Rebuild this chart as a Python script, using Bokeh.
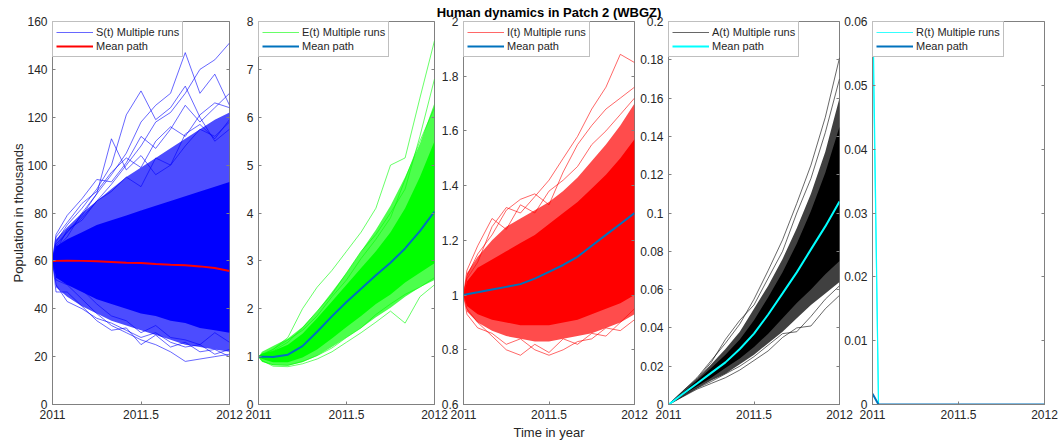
from bokeh.plotting import figure
from bokeh.models import Range1d, FixedTicker, LinearAxis, Legend, LegendItem
from bokeh.layouts import row
from bokeh.embed import file_html
from bokeh.resources import INLINE

FONT = "Liberation Sans"
TXT = "#262626"
EDGE = "#808080"

# ---------------- data ----------------
T = [2011.0, 2011.02, 2011.083, 2011.167, 2011.25, 2011.333, 2011.417,
     2011.5, 2011.583, 2011.667, 2011.75, 2011.833, 2011.917, 2012.0]
X_TICKS = [2011.0, 2011.5, 2012.0]
X_TICK_LABELS = ["2011", "2011.5", "2012"]

# S(t)
S_MEAN = [60.0, 60.0, 60.1, 60.0, 59.8, 59.5, 59.2, 59.1, 58.7, 58.4, 58.2, 57.7, 57.0, 55.8]
S_CORE_LO = [60, 53, 50, 47, 44, 42, 40, 38, 37, 35, 34, 32, 31, 30]
S_CORE_HI = [60, 66, 69, 72, 75, 77, 79, 81, 83, 85, 87, 89, 91, 93]
S_SPREAD_LO = [60, 49, 45, 41, 38, 35, 33, 31, 29, 27, 25, 24, 23, 22]
S_SPREAD_HI = [60, 69, 74, 80, 85, 90, 95, 99, 103, 107, 111, 115, 119, 122]
S_RUN_A = [60, 66, 72, 78, 85, 92, 100, 108, 118, 122, 130, 140, 144, 151]
S_RUN_B = [60, 65, 70, 80, 88, 96, 105, 118, 125, 130, 147, 130, 138, 125]
S_RUN_C = [60, 68, 75, 82, 90, 100, 121, 131, 119, 124, 133, 120, 110, 115]
S_RUN_D = [60, 67, 72, 79, 88, 111, 98, 104, 96, 100, 108, 115, 112, 118]
S_RUN_E = [60, 52, 50, 44, 38, 33, 30, 27, 25, 22, 18, 19, 20, 21]
S_RUN_F = [60, 47, 47, 41, 35, 31, 32, 25, 29, 24, 26, 22, 23, 20]
S_RUN_G = [60, 55, 55, 48, 42, 37, 35, 30, 33, 28, 27, 25, 30, 26]
S_RUN_H = [60, 70, 76, 84, 89, 97, 103, 99, 110, 116, 112, 121, 126, 124]
S_RUN_I = [60, 71, 79, 86, 94, 93, 101, 112, 107, 115, 125, 118, 124, 130]
S_RUN_J = [60, 64, 73, 77, 85, 89, 95, 91, 103, 100, 113, 117, 111, 119]
S_RUN_K = [60, 50, 43, 40, 36, 34, 31, 28, 30, 26, 24, 25, 21, 23]
S_Y_TICKS = [0, 20, 40, 60, 80, 100, 120, 140, 160]
S_Y_LABELS = ["0", "20", "40", "60", "80", "100", "120", "140", "160"]

# E(t)
E_MEAN = [1.0, 1.0, 0.99, 1.04, 1.22, 1.52, 1.84, 2.14, 2.42, 2.7, 2.96, 3.26, 3.62, 4.03]
E_CORE_LO = [1.0, 0.95, 0.88, 0.88, 0.98, 1.15, 1.38, 1.62, 1.85, 2.1, 2.3, 2.55, 2.75, 2.95]
E_CORE_HI = [1.0, 1.06, 1.12, 1.25, 1.48, 1.8, 2.15, 2.5, 2.85, 3.2, 3.6, 4.1, 4.75, 5.5]
E_SPREAD_LO = [1.0, 0.9, 0.82, 0.81, 0.88, 1.02, 1.2, 1.4, 1.6, 1.82, 2.02, 2.25, 2.45, 2.6]
E_SPREAD_HI = [1.0, 1.1, 1.22, 1.38, 1.62, 1.95, 2.35, 2.75, 3.2, 3.65, 4.15, 4.75, 5.45, 6.3]
E_RUN_A = [1.0, 1.03, 1.15, 1.4, 2.0, 2.45, 2.8, 3.2, 3.6, 4.1, 5.0, 5.15, 6.4, 7.6]
E_RUN_B = [1.0, 1.04, 1.12, 1.3, 1.6, 1.95, 2.3, 2.75, 3.2, 3.55, 4.0, 4.5, 5.6, 6.8]
E_RUN_C = [1.0, 1.05, 1.15, 1.35, 1.55, 1.85, 2.25, 2.6, 3.05, 3.45, 3.9, 4.7, 5.5, 6.2]
E_RUN_D = [1.0, 0.92, 0.8, 0.79, 0.85, 0.95, 1.1, 1.3, 1.5, 1.72, 1.95, 1.7, 2.25, 2.5]
E_RUN_E = [1.0, 0.9, 0.83, 0.82, 0.9, 1.02, 1.18, 1.4, 1.6, 1.88, 2.1, 2.3, 2.45, 2.65]
E_Y_TICKS = [0, 1, 2, 3, 4, 5, 6, 7, 8]
E_Y_LABELS = ["0", "1", "2", "3", "4", "5", "6", "7", "8"]

# I(t)
I_MEAN = [1.0, 1.003, 1.01, 1.02, 1.03, 1.04, 1.06, 1.085, 1.11, 1.14, 1.18, 1.22, 1.26, 1.30]
I_CORE_LO = [1.0, 0.96, 0.93, 0.91, 0.9, 0.89, 0.89, 0.89, 0.9, 0.91, 0.93, 0.95, 0.97, 1.0]
I_CORE_HI = [1.0, 1.05, 1.1, 1.13, 1.16, 1.19, 1.22, 1.26, 1.3, 1.34, 1.39, 1.44, 1.5, 1.57]
I_SPREAD_LO = [1.0, 0.94, 0.9, 0.87, 0.85, 0.84, 0.83, 0.83, 0.84, 0.85, 0.86, 0.88, 0.9, 0.93]
I_SPREAD_HI = [1.0, 1.08, 1.14, 1.2, 1.25, 1.28, 1.31, 1.34, 1.38, 1.43, 1.49, 1.55, 1.62, 1.7]
I_RUN_A = [1.0, 1.06, 1.12, 1.25, 1.32, 1.3, 1.36, 1.42, 1.5, 1.58, 1.68, 1.76, 1.88, 1.85]
I_RUN_B = [1.0, 1.07, 1.15, 1.22, 1.31, 1.35, 1.37, 1.33, 1.45, 1.55, 1.62, 1.68, 1.72, 1.76]
I_RUN_C = [1.0, 0.95, 0.9, 0.85, 0.8, 0.78, 0.82, 0.79, 0.84, 0.82, 0.86, 0.85, 0.9, 0.95]
I_RUN_D = [1.0, 0.93, 0.88, 0.86, 0.82, 0.84, 0.8, 0.78, 0.8, 0.83, 0.84, 0.88, 0.87, 0.91]
I_RUN_E = [1.0, 1.09, 1.18, 1.28, 1.24, 1.33, 1.3, 1.38, 1.42, 1.47, 1.55, 1.6, 1.66, 1.72]
I_Y_TICKS = [0.6, 0.8, 1.0, 1.2, 1.4, 1.6, 1.8, 2.0]
I_Y_LABELS = ["0.6", "0.8", "1", "1.2", "1.4", "1.6", "1.8", "2"]

# A(t)
A_MEAN = [0.0, 0.0012, 0.0055, 0.011, 0.0165, 0.022, 0.029, 0.037, 0.047, 0.058, 0.069, 0.081, 0.093, 0.106]
A_CORE_LO = [0.0, 0.001, 0.0048, 0.0095, 0.014, 0.019, 0.024, 0.03, 0.037, 0.045, 0.053, 0.06, 0.068, 0.075]
A_CORE_HI = [0.0, 0.0014, 0.0062, 0.0125, 0.019, 0.026, 0.034, 0.044, 0.056, 0.069, 0.084, 0.101, 0.121, 0.145]
A_SPREAD_LO = [0.0, 0.0009, 0.0042, 0.0085, 0.0125, 0.016, 0.021, 0.026, 0.032, 0.038, 0.045, 0.052, 0.058, 0.064]
A_SPREAD_HI = [0.0, 0.0016, 0.0068, 0.0135, 0.021, 0.029, 0.038, 0.05, 0.062, 0.076, 0.092, 0.11, 0.132, 0.16]
A_RUN_A = [0.0, 0.0017, 0.007, 0.014, 0.023, 0.032, 0.042, 0.055, 0.07, 0.086, 0.105, 0.125, 0.15, 0.181]
A_RUN_B = [0.0, 0.0016, 0.0068, 0.0135, 0.022, 0.034, 0.044, 0.052, 0.066, 0.08, 0.1, 0.118, 0.142, 0.17]
A_RUN_C = [0.0, 0.0009, 0.004, 0.008, 0.011, 0.014, 0.018, 0.023, 0.028, 0.035, 0.04, 0.041, 0.05, 0.057]
A_RUN_D = [0.0, 0.001, 0.0042, 0.0085, 0.012, 0.016, 0.02, 0.025, 0.031, 0.037, 0.038, 0.046, 0.055, 0.062]
A_Y_TICKS = [0.0, 0.02, 0.04, 0.06, 0.08, 0.1, 0.12, 0.14, 0.16, 0.18, 0.2]
A_Y_LABELS = ["0", "0.02", "0.04", "0.06", "0.08", "0.1", "0.12", "0.14", "0.16", "0.18", "0.2"]

# R(t)
R_T = [2011.0, 2011.035, 2012.0]
R_RUN_A = [0.066, 0.0, 0.0]
R_RUN_B = [0.061, 0.0, 0.0]
R_MEAN = [0.0017, 0.0, 0.0]
R_Y_TICKS = [0.0, 0.01, 0.02, 0.03, 0.04, 0.05, 0.06]
R_Y_LABELS = ["0", "0.01", "0.02", "0.03", "0.04", "0.05", "0.06"]

TITLE = "Human dynamics in Patch 2 (WBGZ)"
X_LABEL = "Time in year"
Y_LABEL = "Population in thousands"


def style_axis(ax, ticks, labels, standoff):
    ax.ticker = FixedTicker(ticks=ticks)
    ax.major_label_overrides = dict(zip(ticks, labels))
    ax.major_tick_in = 3
    ax.major_tick_out = 0
    ax.minor_tick_line_color = None
    ax.axis_line_color = EDGE
    ax.major_tick_line_color = EDGE
    ax.major_label_text_font = FONT
    ax.major_label_text_font_size = "12px"
    ax.major_label_text_color = TXT
    ax.major_label_standoff = standoff
    ax.axis_label_text_font = FONT
    ax.axis_label_text_font_size = "13px"
    ax.axis_label_text_font_style = "normal"
    ax.axis_label_text_color = TXT


def make_fig(frame_w, lb, rb, ml, y0, y1, yt, ytl):
    p = figure(frame_width=frame_w, frame_height=383,
               min_border_left=lb, min_border_right=rb,
               min_border_top=21, min_border_bottom=38,
               x_range=Range1d(2011, 2012), y_range=Range1d(y0, y1),
               output_backend="svg", toolbar_location=None,
               margin=(0, 0, 0, ml))
    p.border_fill_color = None
    p.background_fill_color = "white"
    p.outline_line_color = EDGE
    p.outline_line_width = 1
    p.grid.visible = False
    style_axis(p.xaxis[0], X_TICKS, X_TICK_LABELS, 5)
    style_axis(p.yaxis[0], yt, ytl, 5)
    ra = LinearAxis(ticker=FixedTicker(ticks=yt),
                    major_label_overrides={t: "" for t in yt},
                    major_tick_in=3, major_tick_out=0, minor_tick_line_color=None,
                    axis_line_color=None, major_tick_line_color=EDGE,
                    major_label_standoff=0)
    p.add_layout(ra, "right")
    return p


def add_legend(p, r_run, r_mean, label):
    leg = Legend(items=[LegendItem(label=label, renderers=[r_run]),
                        LegendItem(label="Mean path", renderers=[r_mean])],
                 location="top_left", margin=0, padding=3, spacing=0,
                 label_standoff=3, glyph_width=37, glyph_height=14, label_height=14,
                 label_text_font=FONT, label_text_font_size="11px",
                 label_text_color=TXT, border_line_color=EDGE, border_line_width=1,
                 background_fill_color="white", background_fill_alpha=1.0)
    p.add_layout(leg)


def draw_panel(p, color, spread_alpha, core, spread, runs, mean, mean_color, label):
    p.varea(x=T, y1=spread[0], y2=spread[1], fill_color=color, fill_alpha=spread_alpha)
    p.varea(x=T, y1=core[0], y2=core[1], fill_color=color, fill_alpha=1.0)
    rr = None
    for r in runs:
        rr = p.line(T, r, line_color=color, line_width=0.6)
    rm = p.line(T, mean, line_color=mean_color, line_width=2)
    add_legend(p, rr, rm, label)


# panel 1: S
p1 = make_fig(177, 50, 16, 2, 0, 160, S_Y_TICKS, S_Y_LABELS)
draw_panel(p1, "#0000FF", 0.7, (S_CORE_LO, S_CORE_HI), (S_SPREAD_LO, S_SPREAD_HI),
           [S_RUN_A, S_RUN_B, S_RUN_C, S_RUN_D, S_RUN_E, S_RUN_F, S_RUN_G,
            S_RUN_H, S_RUN_I, S_RUN_J, S_RUN_K],
           S_MEAN, "#FF0000", "S(t) Multiple runs")
p1.yaxis[0].axis_label = Y_LABEL
p1.yaxis[0].axis_label_standoff = -2

# panel 2: E
p2 = make_fig(176, 30, 16, -17, 0, 8, E_Y_TICKS, E_Y_LABELS)
draw_panel(p2, "#00FF00", 0.7, (E_CORE_LO, E_CORE_HI), (E_SPREAD_LO, E_SPREAD_HI),
           [E_RUN_A, E_RUN_B, E_RUN_C, E_RUN_D, E_RUN_E],
           E_MEAN, "#0072BD", "E(t) Multiple runs")

# panel 3: I
p3 = make_fig(171, 34, 32, -21, 0.6, 2.0, I_Y_TICKS, I_Y_LABELS)
draw_panel(p3, "#FF0000", 0.7, (I_CORE_LO, I_CORE_HI), (I_SPREAD_LO, I_SPREAD_HI),
           [I_RUN_A, I_RUN_B, I_RUN_C, I_RUN_D, I_RUN_E],
           I_MEAN, "#0072BD", "I(t) Multiple runs")
p3.title.text = TITLE
p3.title.align = "center"
p3.title.text_font = FONT
p3.title.text_font_size = "13px"
p3.title.text_font_style = "bold"
p3.title.text_color = "black"
p3.title.standoff = 4
p3.xaxis[0].axis_label = X_LABEL
p3.xaxis[0].axis_label_standoff = 3

# panel 4: A
p4 = make_fig(171, 34, 16, -32, 0, 0.2, A_Y_TICKS, A_Y_LABELS)
draw_panel(p4, "#000000", 0.75, (A_CORE_LO, A_CORE_HI), (A_SPREAD_LO, A_SPREAD_HI),
           [A_RUN_A, A_RUN_B, A_RUN_C, A_RUN_D],
           A_MEAN, "#00FFFF", "A(t) Multiple runs")

# panel 5: R
p5 = make_fig(172, 34, 14, -17, 0, 0.06, R_Y_TICKS, R_Y_LABELS)
r5a = p5.line(R_T, R_RUN_A, line_color="#00FFFF", line_width=1.2)
r5b = p5.line(R_T, R_RUN_B, line_color="#00FFFF", line_width=0.8)
r5m = p5.line(R_T, R_MEAN, line_color="#0072BD", line_width=2)
add_legend(p5, r5b, r5m, "R(t) Multiple runs")

layout = row(p1, p2, p3, p4, p5)
open("out.html", "w").write(file_html(layout, INLINE, title="Human dynamics"))
